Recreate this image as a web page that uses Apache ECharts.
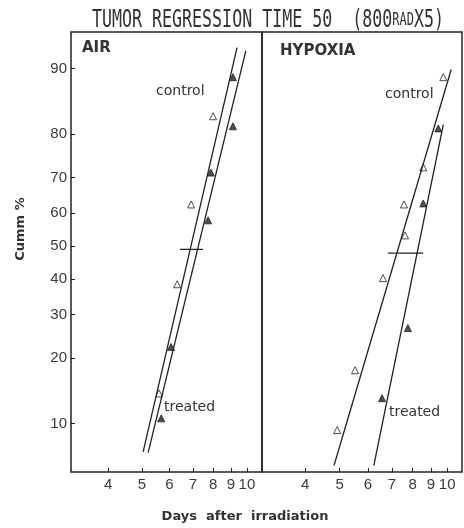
<!DOCTYPE html>
<html>
<head>
<meta charset="utf-8">
<script src="https://cdn.jsdelivr.net/npm/echarts@6/dist/echarts.min.js"></script>
<style>
  html, body { margin: 0; padding: 0; background: #fff; }
  #chart { width: 464px; height: 528px; }
</style>
</head>
<body>
<div id="chart"></div>
<script>
// probability paper (logit) on y, log days on x
var yTicks = [10, 20, 30, 40, 50, 60, 70, 80, 90];
var xTicks = [4, 5, 6, 7, 8, 9, 10];
var yRange = [5.75, 93.4];
var airXRange = [3.13, 11.05];
var hypXRange = [3.03, 11.0];

// [days, cumm %]
var airControlPts = [[8.0, 83.3], [6.92, 62.6], [6.31, 38.4], [5.60, 13.9]];
var airTreatedPts = [[9.12, 89.0], [9.12, 81.5], [7.88, 71.3], [7.74, 57.9], [6.06, 22.3], [5.68, 10.6]];
var airControlLine = [[5.04, 7.25], [9.37, 92.1]];
var airTreatedLine = [[5.21, 7.2], [9.93, 91.8]];
var airMedian = [[6.43, 49], [7.48, 49]];

var hypControlPts = [[9.75, 89.0], [8.57, 72.6], [7.57, 62.6], [7.62, 53.3], [6.61, 40.2], [5.52, 17.7], [4.92, 9.3]];
var hypTreatedPts = [[9.44, 81.1], [8.57, 62.9], [7.76, 26.6], [6.57, 13.2]];
var hypControlLine = [[4.82, 6.2], [10.26, 89.9]];
var hypTreatedLine = [[6.23, 6.2], [9.75, 81.8]];
var hypMedian = [[6.83, 47.8], [8.57, 47.8]];

function logit(p) { return Math.log(p / (100 - p)); }
function unlogit(v) { return 100 / (1 + Math.exp(-v)); }
function tr(arr) { return arr.map(function (d) { return [Math.log10(d[0]), logit(d[1])]; }); }

var ink = '#222';
var labelColor = '#3a3a3a';

function xAxisFor(gi, range) {
  return {
    type: 'value', gridIndex: gi,
    min: Math.log10(range[0]), max: Math.log10(range[1]),
    axisLine: { show: false, onZero: false },
    splitLine: { show: false },
    axisTick: { show: true, inside: true, length: 4, customValues: xTicks.map(Math.log10), lineStyle: { color: ink } },
    axisLabel: {
      customValues: xTicks.map(Math.log10), margin: 5,
      color: labelColor, fontSize: 15, fontFamily: 'Liberation Sans',
      formatter: function (v) { return Math.round(Math.pow(10, v)); }
    }
  };
}
function yAxisFor(gi, labels) {
  return {
    type: 'value', gridIndex: gi,
    min: logit(yRange[0]), max: logit(yRange[1]),
    axisLine: { show: false, onZero: false },
    splitLine: { show: false },
    axisTick: { show: labels, inside: true, length: 4, customValues: yTicks.map(logit), lineStyle: { color: ink } },
    axisLabel: {
      show: labels, customValues: yTicks.map(logit), margin: 4,
      color: labelColor, fontSize: 15, fontFamily: 'Liberation Sans',
      formatter: function (v) { return Math.round(unlogit(v)); }
    }
  };
}
function lineSeries(gi, data) {
  return {
    type: 'line', xAxisIndex: gi, yAxisIndex: gi, data: tr(data),
    symbol: 'none', silent: true, animation: false,
    lineStyle: { color: ink, width: 1.3 }
  };
}
function ptSeries(gi, data, filled) {
  return {
    type: 'scatter', xAxisIndex: gi, yAxisIndex: gi, data: tr(data),
    symbol: 'triangle', symbolSize: 7, animation: false,
    itemStyle: { color: filled ? ink : '#fff', borderColor: ink, borderWidth: 1 }
  };
}

var chart = echarts.init(document.getElementById('chart'));
var txt = { fontFamily: 'DejaVu Sans', fill: '#333' };

chart.setOption({
  backgroundColor: '#fff',
  grid: [
    { left: 71, top: 32, width: 191, height: 440, show: true, borderColor: ink, borderWidth: 1.5 },
    { left: 262, top: 32, width: 200, height: 440, show: true, borderColor: ink, borderWidth: 1.5 }
  ],
  xAxis: [xAxisFor(0, airXRange), xAxisFor(1, hypXRange)],
  yAxis: [yAxisFor(0, true), yAxisFor(1, false)],
  series: [
    lineSeries(0, airControlLine), lineSeries(0, airTreatedLine), lineSeries(0, airMedian),
    ptSeries(0, airControlPts, false), ptSeries(0, airTreatedPts, true),
    lineSeries(1, hypControlLine), lineSeries(1, hypTreatedLine), lineSeries(1, hypMedian),
    ptSeries(1, hypControlPts, false), ptSeries(1, hypTreatedPts, true)
  ],
  graphic: [
    {
      type: 'text', x: 92, y: 8, scaleX: 0.665, scaleY: 1,
      style: {
        text: 'TUMOR REGRESSION TIME 50  (800{s|RAD}X5)',
        fontFamily: 'DejaVu Sans Mono', fontSize: 25, fill: '#333', verticalAlign: 'top',
        rich: { s: { fontFamily: 'DejaVu Sans Mono', fontSize: 18, fill: '#333', verticalAlign: 'bottom', padding: [0, 0, 4, 0] } }
      }
    },
    { type: 'text', x: 82, y: 48, style: Object.assign({ text: 'AIR', fontSize: 15, fontWeight: 'bold', verticalAlign: 'middle' }, txt) },
    { type: 'text', x: 280, y: 51, style: Object.assign({ text: 'HYPOXIA', fontSize: 15, fontWeight: 'bold', verticalAlign: 'middle' }, txt) },
    { type: 'text', x: 156, y: 91, style: Object.assign({ text: 'control', fontSize: 14, verticalAlign: 'middle' }, txt) },
    { type: 'text', x: 164, y: 407, style: Object.assign({ text: 'treated', fontSize: 14, verticalAlign: 'middle' }, txt) },
    { type: 'text', x: 385, y: 94, style: Object.assign({ text: 'control', fontSize: 14, verticalAlign: 'middle' }, txt) },
    { type: 'text', x: 389, y: 412, style: Object.assign({ text: 'treated', fontSize: 14, verticalAlign: 'middle' }, txt) },
    { type: 'text', x: 21, y: 229, rotation: Math.PI / 2, style: Object.assign({ text: 'Cumm %', fontSize: 13, fontWeight: 'bold', align: 'center', verticalAlign: 'middle' }, txt) },
    { type: 'text', x: 245, y: 517, style: Object.assign({ text: 'Days  after  irradiation', fontSize: 13, fontWeight: 'bold', align: 'center', verticalAlign: 'middle' }, txt) }
  ]
});
</script>
</body>
</html>
